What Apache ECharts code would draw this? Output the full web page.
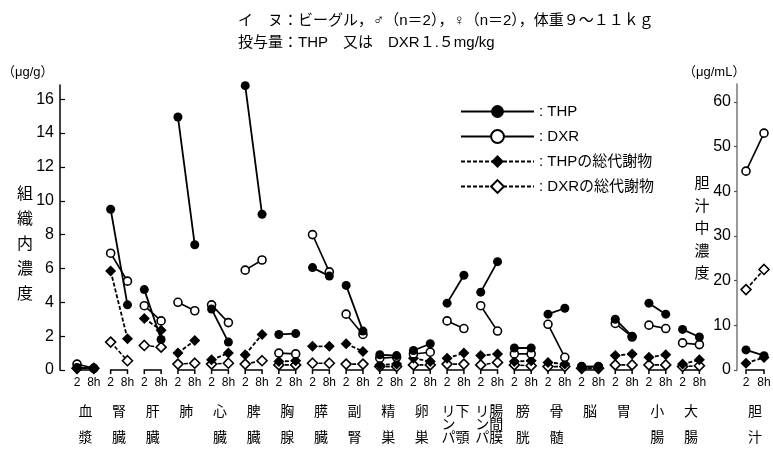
<!DOCTYPE html>
<html><head><meta charset="utf-8">
<script src="https://cdn.jsdelivr.net/npm/echarts@6/dist/echarts.min.js"></script>
<style>html,body{margin:0;padding:0;background:#fff}#c{width:773px;height:452px}</style>
</head><body><div id="c"></div>
<script>
// ---- data ----
const organs = ['血漿','腎臓','肝臓','肺','心臓','脾臓','胸腺','膵臓','副腎','精巣','卵巣','リンパ下顎','リンパ腸間膜','膀胱','骨髄','脳','胃','小腸','大腸'];
const organLabels = ['血\n\n漿','腎\n\n臓','肝\n\n臓','肺','心\n\n臓','脾\n\n臓','胸\n\n腺','膵\n\n臓','副\n\n腎','精\n\n巣','卵\n\n巣','リ下\nン　\nパ顎','リ腸\nン間\nパ膜','膀\n\n胱','骨\n\n髄','脳','胃','小\n\n腸','大\n\n腸'];
const timeLabels = ['2','8h'];
const thp2  = [0.15, 9.5, 4.75, 14.95, 3.6, 16.8, 2.1, 6.05, 5.0, 0.9, 1.15, 3.95, 4.6, 1.3, 3.3, 0.2, 3.0, 3.95, 2.4];
const thp8  = [0.1, 3.85, 1.8, 7.4, 1.65, 9.2, 2.15, 5.55, 2.3, 0.85, 1.55, 5.6, 6.4, 1.3, 3.65, 0.2, 2.0, 3.3, 1.95];
const dxr2  = [0.35, 6.9, 3.8, 4.0, 3.85, 5.9, 1.0, 8.0, 3.3, 0.7, 0.95, 2.9, 3.8, 0.95, 2.7, 0.2, 2.75, 2.65, 1.6];
const dxr8  = [0.1, 5.25, 2.9, 3.5, 2.8, 6.5, 0.95, 5.8, 2.1, 0.75, 1.05, 2.45, 2.3, 0.95, 0.75, 0.2, 1.95, 2.45, 1.5];
const thpm2 = [0.1, 5.85, 3.05, 1.0, 0.6, 0.9, 0.5, 1.4, 1.55, 0.3, 0.7, 0.7, 0.85, 0.5, 0.45, 0.1, 0.85, 0.75, 0.35];
const thpm8 = [0.1, 1.85, 2.35, 1.75, 1.0, 2.1, 0.55, 1.4, 1.1, 0.35, 0.5, 1.0, 0.95, 0.55, 0.35, 0.1, 0.95, 0.9, 0.6];
const dxrm2 = [0.1, 1.65, 1.45, 0.35, 0.35, 0.35, 0.3, 0.4, 0.35, 0.2, 0.3, 0.35, 0.3, 0.3, 0.2, 0.1, 0.3, 0.3, 0.2];
const dxrm8 = [0.1, 0.55, 1.35, 0.4, 0.4, 0.55, 0.3, 0.4, 0.35, 0.2, 0.3, 0.35, 0.45, 0.25, 0.2, 0.1, 0.3, 0.3, 0.25];
const bileLabel = ['胆\n\n汁'];
const bileTHP  = [4.5, 3.2];
const bileDXR  = [44.5, 53.0];
const bileTHPm = [1.5, 2.8];
const bileDXRm = [18.0, 22.5];
const leftTicks  = [0, 2, 4, 6, 8, 10, 12, 14, 16];
const rightTicks = [0, 10, 20, 30, 40, 50, 60];
const names = ['THP', 'DXR', 'THPの総代謝物', 'DXRの総代謝物'];

// ---- build ----
const FF = '"Liberation Sans", "Noto Sans CJK JP", sans-serif';
const JF = '"Noto Sans CJK JP", sans-serif';
const cats = [];
organs.forEach(() => { cats.push(timeLabels[0], timeLabels[1]); });
function pairs(a2, a8) {
  const d = [];
  a2.forEach((v, i) => { d.push([2 * i, v], [2 * i + 1, a8[i]], [2 * i + 1, '-']); });
  return d;
}
const styles = [
  {symbol: 'circle', symbolSize: 9, itemStyle: {color: '#000'}, lineStyle: {color: '#000', width: 1.8, type: 'solid'}},
  {symbol: 'circle', symbolSize: 8, itemStyle: {color: '#fff', borderColor: '#000', borderWidth: 1.6}, lineStyle: {color: '#000', width: 1.6, type: 'solid'}},
  {symbol: 'diamond', symbolSize: 11, itemStyle: {color: '#000'}, lineStyle: {color: '#000', width: 1.8, type: [4, 2]}},
  {symbol: 'diamond', symbolSize: 10, itemStyle: {color: '#fff', borderColor: '#000', borderWidth: 1.6}, lineStyle: {color: '#000', width: 1.6, type: [4, 2]}}
];
const mainData = [pairs(thp2, thp8), pairs(dxr2, dxr8), pairs(thpm2, thpm8), pairs(dxrm2, dxrm8)];
const bileData = [bileTHP, bileDXR, bileTHPm, bileDXRm];

function bracket(params, api) {
  const a = api.coord([api.value(0), 0]);
  const b = api.coord([api.value(1), 0]);
  return {type: 'polyline', shape: {points: [[a[0], a[1] + 4], [a[0], a[1]], [b[0], b[1]], [b[0], b[1] + 4]]},
    style: {stroke: '#000', lineWidth: 1.5, fill: null}};
}

const series = [];
series.push({type: 'custom', xAxisIndex: 0, yAxisIndex: 0, data: organs.map((o, i) => [2 * i, 2 * i + 1]), renderItem: bracket, clip: false, silent: true, z: 1});
series.push({type: 'custom', xAxisIndex: 2, yAxisIndex: 1, data: [[0, 1]], renderItem: bracket, clip: false, silent: true, z: 1});
[3, 2, 1, 0].forEach(k => {
  series.push(Object.assign({type: 'line', name: names[k], xAxisIndex: 0, yAxisIndex: 0, data: mainData[k], connectNulls: false, z: 2 + (3 - k), silent: true}, styles[k]));
  series.push(Object.assign({type: 'line', name: names[k], xAxisIndex: 2, yAxisIndex: 1, data: bileData[k], z: 2 + (3 - k), silent: true}, styles[k]));
});

const catAxis = (grid, data, margin, size, extra) => Object.assign({
  gridIndex: grid, type: 'category', data: data, position: 'bottom', boundaryGap: true,
  axisLine: {show: false}, axisTick: {show: false}, splitLine: {show: false},
  axisLabel: {interval: 0, margin: margin, fontSize: size, color: '#000', fontFamily: FF}
}, extra || {});

const option = {
  animation: false,
  backgroundColor: '#fff',
  title: {
    text: 'イ　ヌ：ビーグル，♂（n＝2），♀（n＝2），体重９～１１ｋｇ\n投与量：THP　又は　DXR１.５mg/kg',
    left: 233, top: 5,
    textStyle: {fontSize: 15, fontWeight: 'normal', lineHeight: 22, color: '#000', fontFamily: FF}
  },
  legend: {
    data: names, orient: 'vertical', left: 455, top: 99, itemWidth: 73, itemHeight: 16, itemGap: 10,
    selectedMode: false, formatter: n => ': ' + n,
    textStyle: {fontSize: 15, color: '#000', fontFamily: FF}
  },
  grid: [
    {left: 68.6, top: 85, width: 639.2, height: 285},
    {left: 737, top: 84, width: 42, height: 286}
  ],
  xAxis: [
    catAxis(0, cats, 7, 12),
    catAxis(0, organLabels, 34, 14, {axisLabel: {interval: 0, margin: 34, fontSize: 14, lineHeight: 13, color: '#000', fontFamily: JF, verticalAlign: 'top'}}),
    catAxis(1, timeLabels, 7, 12),
    catAxis(1, bileLabel, 34, 14, {axisLabel: {interval: 0, margin: 34, fontSize: 14, lineHeight: 13, color: '#000', fontFamily: JF, verticalAlign: 'top'}})
  ],
  yAxis: [
    {gridIndex: 0, type: 'value', min: 0, max: 16.84, offset: 8.6,
     axisLine: {show: true, lineStyle: {color: '#000', width: 1.5}},
     axisTick: {show: true, inside: true, length: 5, customValues: leftTicks, lineStyle: {color: '#000', width: 1.2}},
     axisLabel: {customValues: leftTicks, fontSize: 16, margin: 6, color: '#000', fontFamily: FF},
     splitLine: {show: false}},
    {gridIndex: 1, type: 'value', min: 0, max: 64,
     axisLine: {show: true, lineStyle: {color: '#777', width: 1.5}},
     axisTick: {show: true, inside: false, length: 3, customValues: rightTicks, lineStyle: {color: '#555', width: 1.2}},
     axisLabel: {customValues: rightTicks, fontSize: 16, margin: 6, color: '#000', fontFamily: FF},
     splitLine: {show: false}}
  ],
  graphic: [
    {type: 'text', left: 2, top: 66, style: {text: '（μg/g）', fontSize: 13, fill: '#000', fontFamily: FF}},
    {type: 'text', x: 25, y: 180, style: {text: '組\n織\n内\n濃\n度', fontSize: 16, lineHeight: 25, align: 'center', verticalAlign: 'top', fill: '#000', fontFamily: JF}},
    {type: 'text', left: 683, top: 66, style: {text: '（μg/mL）', fontSize: 13, fill: '#000', fontFamily: FF}},
    {type: 'text', x: 702, y: 171, style: {text: '胆\n汁\n中\n濃\n度', fontSize: 15, lineHeight: 22.6, align: 'center', verticalAlign: 'top', fill: '#000', fontFamily: JF}}
  ],
  series: series
};
const chart = echarts.init(document.getElementById('c'), null, {renderer: 'canvas'});
chart.setOption(option);
</script></body></html>
